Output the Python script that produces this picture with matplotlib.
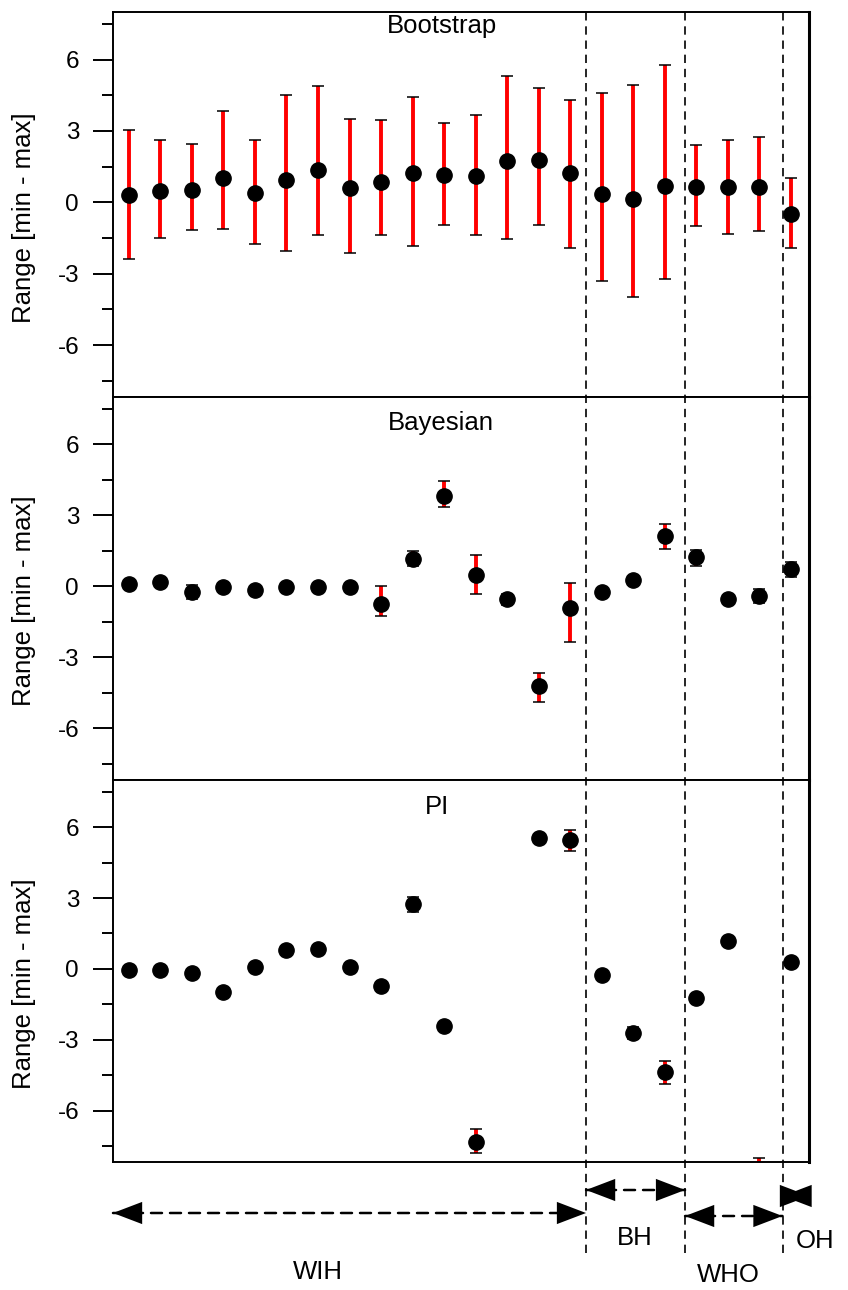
import numpy as np
import matplotlib.pyplot as plt
from matplotlib.ticker import MultipleLocator
from matplotlib.transforms import blended_transform_factory

plt.rcParams["font.family"] = ["Liberation Sans", "DejaVu Sans"]
plt.rcParams["axes.unicode_minus"] = False

# 22 cases, split into four groups
positions = np.arange(1, 23)
groups = ["WIH", "BH", "WHO", "OH"]
group_edges = [15.5, 18.64, 21.73]

panel_titles = ["Bootstrap", "Bayesian", "PI"]

boot_val = [0.32, 0.48, 0.52, 1.03, 0.38, 0.94, 1.35, 0.60, 0.87, 1.24, 1.13,
            1.11, 1.74, 1.80, 1.22, 0.34, 0.15, 0.70, 0.63, 0.63, 0.66, -0.51]
boot_min = [-2.38, -1.49, -1.17, -1.10, -1.76, -2.05, -1.39, -2.11, -1.39, -1.84, -0.97,
            -1.39, -1.52, -0.94, -1.93, -3.32, -3.99, -3.21, -1.00, -1.34, -1.21, -1.91]
boot_max = [3.02, 2.63, 2.45, 3.85, 2.63, 4.51, 4.88, 3.50, 3.47, 4.43, 3.32,
            3.68, 5.29, 4.80, 4.32, 4.60, 4.95, 5.78, 2.43, 2.60, 2.73, 1.03]

bayes_val = [0.08, 0.20, -0.24, -0.04, -0.14, -0.01, -0.01, -0.01, -0.74, 1.17, 3.82,
             0.48, -0.55, -4.20, -0.91, -0.22, 0.29, 2.13, 1.26, -0.55, -0.39, 0.73]
bayes_min = [0.00, 0.12, -0.53, -0.10, -0.22, -0.05, -0.05, -0.05, -1.25, 0.86, 3.36,
             -0.31, -0.77, -4.87, -2.37, -0.30, 0.20, 1.57, 0.88, -0.65, -0.72, 0.39]
bayes_max = [0.15, 0.28, 0.06, 0.02, -0.06, 0.03, 0.03, 0.03, 0.00, 1.49, 4.44,
             1.33, -0.32, -3.65, 0.15, -0.14, 0.38, 2.65, 1.54, -0.45, -0.10, 1.05]

# case 13 is not shown, case 21 lies below the axis (only its upper cap is visible)
pi_val = [-0.03, -0.03, -0.17, -0.97, 0.08, 0.81, 0.83, 0.06, -0.72, 2.74, -2.40,
          -7.33, np.nan, 5.53, 5.44, -0.25, -2.71, -4.38, -1.24, 1.18, -8.60, 0.28]
pi_min = [-0.05, -0.05, -0.20, -1.00, 0.05, 0.78, 0.80, 0.03, -0.75, 2.43, -2.43,
          -7.81, np.nan, 5.40, 4.99, -0.28, -2.95, -4.87, -1.27, 1.15, -9.20, 0.25]
pi_max = [0.00, 0.00, -0.14, -0.94, 0.11, 0.84, 0.86, 0.09, -0.69, 3.05, -2.37,
          -6.80, np.nan, 5.65, 5.88, -0.22, -2.48, -3.92, -1.21, 1.21, -8.03, 0.31]

series = [(boot_val, boot_min, boot_max),
          (bayes_val, bayes_min, bayes_max),
          (pi_val, pi_min, pi_max)]

# layout (pixels of the 848x1290 figure)
W, H = 848, 1290
left_px, right_px = 113, 809
panel_px = [(12, 397), (397, 780), (780, 1162)]
title_drop_px = [21, 33, 34]
title_x = [0.473, 0.471, 0.466]
x_lim = (0.5, 22.57)
y_lim = (-8.18, 8.0)

fig = plt.figure(figsize=(W / 100, H / 100), dpi=100)
axes = []
for i, (top, bottom) in enumerate(panel_px):
    ax = fig.add_axes([left_px / W, 1 - bottom / H, (right_px - left_px) / W, (bottom - top) / H])
    val, lo, hi = (np.asarray(a, dtype=float) for a in series[i])
    yerr = [val - lo, hi - val]
    _, caps, _ = ax.errorbar(positions, val, yerr=yerr, fmt="none", ecolor="#ff0000",
                             elinewidth=2.8, capsize=4.3, capthick=1.1, zorder=2)
    for c in caps:
        c.set_color("black")
        c.set_markeredgecolor("black")
    ax.plot(positions, val, "o", color="black", markersize=11, zorder=3)

    ax.set_xlim(*x_lim)
    ax.set_ylim(*y_lim)
    ax.yaxis.set_major_locator(MultipleLocator(3))
    ax.yaxis.set_minor_locator(MultipleLocator(1.5))
    ax.tick_params(axis="x", which="both", bottom=False, labelbottom=False)
    ax.tick_params(axis="y", which="major", direction="out", length=14.4, width=1.4,
                   pad=10, labelsize=17.5)
    ax.tick_params(axis="y", which="minor", direction="out", length=8, width=1.4)
    for s in ax.spines.values():
        s.set_linewidth(1.4)
    ax.spines["right"].set_linewidth(2.2)

    ax.set_ylabel("Range [min - max]", fontsize=18.5)
    ax.yaxis.set_label_coords(-0.11, 0.467)
    h = bottom - top
    ax.text(title_x[i], 1 - title_drop_px[i] / h, panel_titles[i], transform=ax.transAxes,
            ha="center", va="baseline", fontsize=18.5)
    axes.append(ax)

ax_b = axes[-1]
trans = blended_transform_factory(ax_b.transData, fig.transFigure)

# group separators, running from the top panel down into the annotation area
for e in group_edges:
    ax_b.plot([e, e], [1 - 1253 / H, 1 - 12 / H], transform=trans, color="black",
              lw=1.2, linestyle=(0, (5, 3.5)), clip_on=False, zorder=5)

# group span arrows (dashed shaft + solid filled heads) and labels
spans = [x_lim[0]] + group_edges + [x_lim[1]]
arrow_y_px = [1213, 1190, 1216, 1196]
label_x = [7.0, 17.05, 20.0, 22.76]
label_y_px = [1272, 1238, 1275, 1241]
coords = ("data", "figure fraction")
for i, g in enumerate(groups):
    y = 1 - arrow_y_px[i] / H
    ax_b.annotate("", xy=(spans[i + 1], y), xytext=(spans[i], y),
                  xycoords=coords, textcoords=coords,
                  arrowprops=dict(arrowstyle="-", linestyle=(0, (4.4, 3.2)), lw=1.8,
                                  color="black", shrinkA=0, shrinkB=0),
                  annotation_clip=False)
    ax_b.annotate("", xy=(spans[i + 1], y), xytext=(spans[i], y),
                  xycoords=coords, textcoords=coords,
                  arrowprops=dict(arrowstyle="<|-|>,head_length=21,head_width=8",
                                  mutation_scale=1, lw=0, facecolor="black",
                                  edgecolor="none", shrinkA=0, shrinkB=0),
                  annotation_clip=False)
    ax_b.text(label_x[i], 1 - label_y_px[i] / H, g, transform=trans, ha="center",
              va="center", fontsize=18.5)

fig.savefig("out.png", dpi=100)
